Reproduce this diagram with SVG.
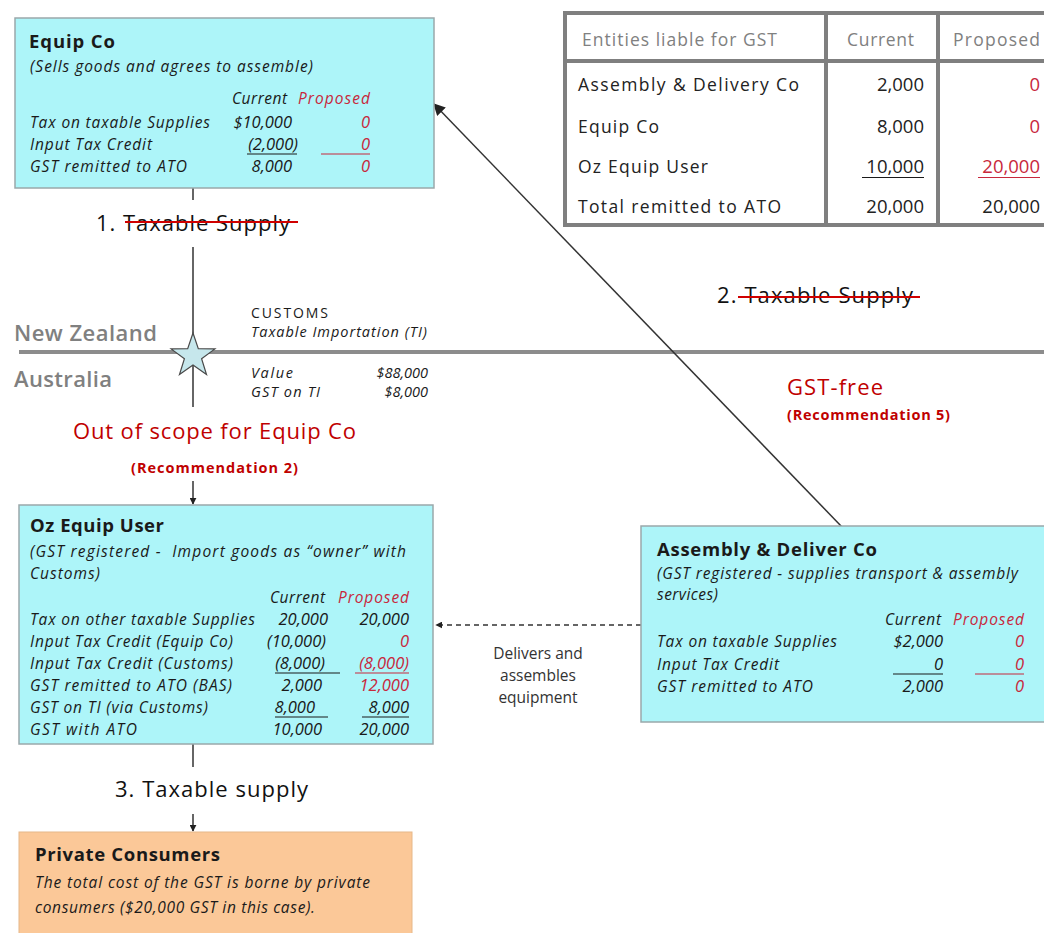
<svg xmlns="http://www.w3.org/2000/svg" width="1044" height="933" viewBox="0 0 1044 933">
<style>
text { font-family: "Open Sans", "Liberation Sans", sans-serif; fill: #1a1a1a; }
.box { fill: #adf5f9; stroke: #9aa8aa; stroke-width: 1.5; }
.org { fill: #fbc898; stroke: #e6b889; stroke-width: 1; }
.title { font-size: 18.5px; font-weight: 700; }
.it { font-size: 15.5px; font-style: italic; }
.num { font-size: 16.5px; font-style: italic; text-anchor: end; }
.ul { stroke: #1a1a1a; stroke-width: 1.2; }
.ulr { stroke: #c8283c; stroke-width: 1.2; }
.conn { stroke: #333; stroke-width: 1.5; fill: none; }
.tbl { font-size: 17.5px; fill: #222; }
.tbln { font-size: 18.5px; fill: #222; text-anchor: end; }
.tblh { font-size: 17.5px; fill: #808080; }
.grid { stroke: #7f7f7f; stroke-width: 4; fill: none; }
.lbl { font-size: 22px; fill: #111; font-weight: 500; }
.strike { stroke: #d00000; stroke-width: 2; }
.small { font-size: 14px; }
.smit { font-size: 14.5px; font-style: italic; }
.country { font-size: 22px; font-weight: 600; fill: #808080; }
.rec { font-size: 14.5px; font-weight: 700; fill: #c00000; }
.big { font-size: 22px; fill: #c00000; font-weight: 500; }
.note { font-size: 15.5px; fill: #333; text-anchor: middle; }
text.red { fill: #c8283c; }
</style>
<defs>
<marker id="arrow" viewBox="0 0 10 10" refX="9" refY="5" markerWidth="7" markerHeight="7" markerUnits="userSpaceOnUse" orient="auto">
<path d="M0,0 L10,5 L0,10 z" fill="#222"/>
</marker>
<marker id="arrowBig" viewBox="0 0 10 10" refX="9" refY="5" markerWidth="12" markerHeight="12" markerUnits="userSpaceOnUse" orient="auto">
<path d="M0,0 L10,5 L0,10 z" fill="#222"/>
</marker>
</defs>
<rect width="1044" height="933" fill="#ffffff"/>

<!-- Border between countries -->
<g id="border">
<line x1="19" y1="352" x2="1044" y2="352" stroke="#8c8c8c" stroke-width="4"/>
<text x="14" y="341" class="country" textLength="143">New Zealand</text>
<text x="14" y="387" class="country" textLength="98">Australia</text>
</g>

<!-- Connectors -->
<g id="connectors">
<line class="conn" x1="193" y1="188" x2="193" y2="200"/>
<line class="conn" x1="193" y1="247" x2="193" y2="407"/>
<line class="conn" x1="193" y1="481" x2="193" y2="504" marker-end="url(#arrow)"/>
<line class="conn" x1="193" y1="744" x2="193" y2="767"/>
<line class="conn" x1="193" y1="814" x2="193" y2="831" marker-end="url(#arrow)"/>
<line class="conn" x1="842" y1="527" x2="434" y2="104" marker-end="url(#arrowBig)"/>
<line class="conn" x1="641" y1="625" x2="436" y2="625" stroke-dasharray="5,4" marker-end="url(#arrow)"/>
</g>

<!-- Connector labels -->
<g id="connector-labels">
<text x="96" y="231" class="lbl" textLength="194">1. Taxable Supply</text>
<line class="strike" x1="125" y1="222" x2="298" y2="222"/>
<text x="717" y="303" class="lbl" textLength="196">2. Taxable Supply</text>
<line class="strike" x1="738" y1="297" x2="920" y2="297"/>
<text x="115" y="797" class="lbl" textLength="193">3. Taxable supply</text>
<text x="73" y="439" class="big" textLength="283">Out of scope for Equip Co</text>
<text x="131" y="473" class="rec" textLength="167">(Recommendation 2)</text>
<text x="787" y="395" class="big" textLength="96">GST-free</text>
<text x="787" y="420" class="rec" textLength="163">(Recommendation 5)</text>
<text x="538" y="659" class="note">Delivers and</text>
<text x="538" y="681" class="note">assembles</text>
<text x="538" y="703" class="note">equipment</text>
</g>

<!-- Customs point -->
<g id="customs">
<path d="M193,333 L198.3,348.7 L214.9,348.9 L201.6,358.8 L206.5,374.6 L193,365 L179.5,374.6 L184.4,358.8 L171.1,348.9 L187.7,348.7 Z" fill="#c6e7ec" stroke="#4a4a4a" stroke-width="1.2"/>
<text x="251" y="318" class="small" textLength="77">CUSTOMS</text>
<text x="251" y="337" class="smit" textLength="176">Taxable Importation (TI)</text>
<text x="251" y="378" class="smit" textLength="42">Value</text>
<text x="428" y="378" class="smit" text-anchor="end">$88,000</text>
<text x="251" y="397" class="smit" textLength="69">GST on TI</text>
<text x="428" y="397" class="smit" text-anchor="end">$8,000</text>
</g>

<!-- Equip Co -->
<g id="equip-co">
<rect class="box" x="15" y="18" width="419" height="170"/>
<text x="29" y="48" class="title" textLength="86">Equip Co</text>
<text x="30" y="72" class="it" textLength="283">(Sells goods and agrees to assemble)</text>
<text x="232" y="104" class="it" textLength="55">Current</text>
<text x="298" y="104" class="it red" textLength="72">Proposed</text>
<text x="30" y="128" class="it" textLength="180">Tax on taxable Supplies</text>
<text x="292" y="128" class="num">$10,000</text>
<text x="370" y="128" class="num red">0</text>
<text x="30" y="150" class="it" textLength="122">Input Tax Credit</text>
<text x="298" y="150" class="num">(2,000)</text>
<text x="370" y="150" class="num red">0</text>
<line class="ul" x1="247" y1="154" x2="297" y2="154"/>
<line class="ulr" x1="321" y1="154" x2="370" y2="154"/>
<text x="30" y="172" class="it" textLength="157">GST remitted to ATO</text>
<text x="292" y="172" class="num">8,000</text>
<text x="370" y="172" class="num red">0</text>
</g>

<!-- Entities table -->
<g id="entities-table">
<rect x="565" y="13" width="520" height="212" fill="#ffffff" class="grid"/>
<line class="grid" x1="565" y1="61" x2="1044" y2="61" stroke-width="5"/>
<line class="grid" x1="826" y1="13" x2="826" y2="225"/>
<line class="grid" x1="938" y1="13" x2="938" y2="225"/>
<text x="582" y="46" class="tblh" textLength="195">Entities liable for GST</text>
<text x="847" y="46" class="tblh" textLength="67">Current</text>
<text x="953" y="46" class="tblh" textLength="87">Proposed</text>
<text x="578" y="91" class="tbl" textLength="221">Assembly &amp; Delivery Co</text>
<text x="924" y="91" class="tbln">2,000</text>
<text x="1040" y="91" class="tbln red">0</text>
<text x="578" y="133" class="tbl" textLength="81">Equip Co</text>
<text x="924" y="133" class="tbln">8,000</text>
<text x="1040" y="133" class="tbln red">0</text>
<text x="578" y="173" class="tbl" textLength="130">Oz Equip User</text>
<text x="924" y="173" class="tbln">10,000</text>
<text x="1040" y="173" class="tbln red">20,000</text>
<line class="ul" x1="862" y1="177.5" x2="924" y2="177.5"/>
<line class="ulr" x1="978" y1="177.5" x2="1040" y2="177.5"/>
<text x="578" y="213" class="tbl" textLength="203">Total remitted to ATO</text>
<text x="924" y="213" class="tbln">20,000</text>
<text x="1040" y="213" class="tbln">20,000</text>
</g>

<!-- Oz Equip User -->
<g id="oz-equip-user">
<rect class="box" x="19" y="505" width="414" height="239"/>
<text x="30" y="532" class="title" textLength="134">Oz Equip User</text>
<text x="30" y="557" class="it" textLength="376" style="white-space:pre">(GST registered -  Import goods as “owner” with</text>
<text x="30" y="579" class="it" textLength="70">Customs)</text>
<text x="270" y="603" class="it" textLength="55">Current</text>
<text x="338" y="603" class="it red" textLength="71">Proposed</text>
<text x="30" y="625" class="it" textLength="225">Tax on other taxable Supplies</text>
<text x="328" y="625" class="num">20,000</text>
<text x="409" y="625" class="num">20,000</text>
<text x="30" y="647" class="it" textLength="203">Input Tax Credit (Equip Co)</text>
<text x="326" y="647" class="num">(10,000)</text>
<text x="409" y="647" class="num red">0</text>
<text x="30" y="669" class="it" textLength="203">Input Tax Credit (Customs)</text>
<text x="325" y="669" class="num">(8,000)</text>
<text x="409" y="669" class="num red">(8,000)</text>
<line class="ul" x1="275" y1="673" x2="340" y2="673"/>
<line class="ulr" x1="355" y1="673" x2="409" y2="673"/>
<text x="30" y="691" class="it" textLength="202">GST remitted to ATO (BAS)</text>
<text x="322" y="691" class="num">2,000</text>
<text x="409" y="691" class="num red">12,000</text>
<text x="30" y="713" class="it" textLength="178">GST on TI (via Customs)</text>
<text x="315" y="713" class="num">8,000</text>
<text x="409" y="713" class="num">8,000</text>
<line class="ul" x1="275" y1="717" x2="328" y2="717"/>
<line class="ul" x1="362" y1="717" x2="409" y2="717"/>
<text x="30" y="735" class="it" textLength="107">GST with ATO</text>
<text x="322" y="735" class="num">10,000</text>
<text x="409" y="735" class="num">20,000</text>
</g>

<!-- Assembly & Deliver Co -->
<g id="assembly-deliver-co">
<rect class="box" x="641" y="526" width="420" height="196"/>
<text x="657" y="556" class="title" textLength="220">Assembly &amp; Deliver Co</text>
<text x="657" y="579" class="it" textLength="361">(GST registered - supplies transport &amp; assembly</text>
<text x="657" y="600" class="it" textLength="61">services)</text>
<text x="885" y="625" class="it" textLength="56">Current</text>
<text x="953" y="625" class="it red" textLength="71">Proposed</text>
<text x="657" y="647" class="it" textLength="180">Tax on taxable Supplies</text>
<text x="943" y="647" class="num">$2,000</text>
<text x="1024" y="647" class="num red">0</text>
<text x="657" y="670" class="it" textLength="122">Input Tax Credit</text>
<text x="943" y="670" class="num">0</text>
<text x="1024" y="670" class="num red">0</text>
<line class="ul" x1="893" y1="674" x2="943" y2="674"/>
<line class="ulr" x1="975" y1="674" x2="1024" y2="674"/>
<text x="657" y="692" class="it" textLength="156">GST remitted to ATO</text>
<text x="943" y="692" class="num">2,000</text>
<text x="1024" y="692" class="num red">0</text>
</g>

<!-- Private Consumers -->
<g id="private-consumers">
<rect class="org" x="19" y="832" width="393" height="110"/>
<text x="35" y="861" class="title" textLength="185">Private Consumers</text>
<text x="35" y="888" class="it" textLength="335">The total cost of the GST is borne by private</text>
<text x="35" y="913" class="it" textLength="280">consumers ($20,000 GST in this case).</text>
</g>
</svg>
